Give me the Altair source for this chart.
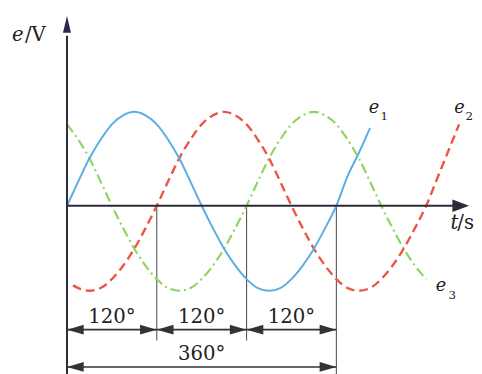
import altair as alt
import pandas as pd

# ---- curves (theta in degrees, e in units of amplitude) ----
theta_e1 = [0, 15, 30, 45, 60, 75, 90, 105, 120, 135, 150, 165, 180, 195, 210, 225, 240,
            255, 270, 285, 300, 315, 330, 345, 360, 375, 390, 405]
e1 = [0, 0.27, 0.53, 0.74, 0.91, 1.01, 1.05, 1.01, 0.91, 0.74, 0.53, 0.27, 0,
      -0.25, -0.48, -0.67, -0.82, -0.92, -0.95, -0.92, -0.82, -0.67, -0.48, -0.25, 0,
      0.33, 0.59, 0.87]

theta_e2 = [8, 15, 30, 45, 60, 75, 90, 105, 120, 135, 150, 165, 180, 195, 210, 225, 240,
            255, 270, 285, 300, 315, 330, 345, 360, 375, 390, 405, 420, 435, 450, 465,
            480, 495, 510, 524]
e2 = [-0.89, -0.92, -0.95, -0.92, -0.82, -0.67, -0.48, -0.25, 0, 0.27, 0.53, 0.74, 0.91,
      1.01, 1.05, 1.01, 0.91, 0.74, 0.53, 0.27, 0, -0.25, -0.48, -0.67, -0.82, -0.92,
      -0.95, -0.92, -0.82, -0.67, -0.48, -0.25, 0, 0.31, 0.62, 0.91]

theta_e3 = [0, 15, 30, 45, 60, 75, 90, 105, 120, 135, 150, 165, 180, 195, 210, 225, 240,
            255, 270, 285, 300, 315, 330, 345, 360, 375, 390, 405, 420, 435, 450, 465, 480]
e3 = [0.91, 0.74, 0.53, 0.27, 0, -0.25, -0.48, -0.67, -0.82, -0.92, -0.95, -0.92, -0.82,
      -0.67, -0.48, -0.25, 0, 0.27, 0.53, 0.74, 0.91, 1.01, 1.05, 1.01, 0.91, 0.74, 0.53,
      0.27, 0, -0.25, -0.48, -0.67, -0.82]

# ---- phase-difference annotations ----
seg_start = [0, 120, 240, 0]
seg_end = [120, 240, 360, 360]
seg_level = [-1.385, -1.385, -1.385, -1.802]
seg_label = ["120°", "120°", "120°", "360°"]
label_level = [-1.308, -1.308, -1.308, -1.725]

# ---- axis ends ----
x_axis_end = 528
x_arrow_tip = 537.4
y_axis_top = 1.9
y_axis_bottom = -1.95
y_arrow_tip = 2.12

FONT = "DejaVu Serif"
AXIS_COLOR = "#2b2b3a"

X_SCALE = alt.Scale(domain=[0, 360], range=[60, 334], nice=False, zero=False)
Y_SCALE = alt.Scale(domain=[0, 1], range=[198, 107], nice=False, zero=False)


def X(field):
    return alt.X(field, type="quantitative", scale=X_SCALE, axis=None)


def Y(field):
    return alt.Y(field, type="quantitative", scale=Y_SCALE, axis=None)


df1 = pd.DataFrame({"theta": theta_e1, "e": e1})
df2 = pd.DataFrame({"theta": theta_e2, "e": e2})
df3 = pd.DataFrame({"theta": theta_e3, "e": e3})

green = alt.Chart(df3).mark_line(
    color="#8fd460", strokeWidth=2.2, strokeDash=[10, 4, 2, 4], interpolate="monotone"
).encode(x=X("theta"), y=Y("e"))
red = alt.Chart(df2).mark_line(
    color="#ec5543", strokeWidth=2.4, strokeDash=[9, 5], interpolate="monotone"
).encode(x=X("theta"), y=Y("e"))
blue = alt.Chart(df1).mark_line(
    color="#5aaee4", strokeWidth=2, interpolate="monotone"
).encode(x=X("theta"), y=Y("e"))

# axes
xaxis = alt.Chart(pd.DataFrame({"a": [0], "b": [x_axis_end], "e": [0]})).mark_rule(
    color=AXIS_COLOR, strokeWidth=2
).encode(x=X("a"), x2="b", y=Y("e"))
yaxis = alt.Chart(pd.DataFrame({"t": [0], "a": [y_axis_bottom], "b": [y_axis_top]})).mark_rule(
    color=AXIS_COLOR, strokeWidth=2
).encode(x=X("t"), y=Y("a"), y2="b")

# vertical guide lines
vl = alt.Chart(pd.DataFrame({"t": [120, 240, 360], "a": [0, 0, 0],
                             "b": [-1.505, -1.505, y_axis_bottom]})).mark_rule(
    color="#555555", strokeWidth=1.1
).encode(x=X("t"), y=Y("a"), y2="b")

# dimension shafts
shafts = alt.Chart(pd.DataFrame({"a": seg_start, "b": seg_end, "e": seg_level})).mark_rule(
    color="#333333", strokeWidth=1.6
).encode(x=X("a"), x2="b", y=Y("e"))

heads_rows = []
for s, t, lv in zip(seg_start, seg_end, seg_level):
    heads_rows.append({"theta": s, "e": lv, "dir": "L"})
    heads_rows.append({"theta": t, "e": lv, "dir": "R"})
heads_rows.append({"theta": x_arrow_tip, "e": 0, "dir": "X"})
heads_rows.append({"theta": 0, "e": y_arrow_tip, "dir": "U"})

heads = alt.Chart(pd.DataFrame(heads_rows)).mark_point(
    filled=True, opacity=1, strokeWidth=0
).encode(
    x=X("theta"), y=Y("e"),
    shape=alt.Shape("dir:N", legend=None, scale=alt.Scale(
        domain=["L", "R", "X", "U"],
        range=["M0,0L1,-0.29L1,0.29Z", "M0,0L-1,-0.29L-1,0.29Z",
               "M0,0L-1,-0.38L-1,0.38Z", "M0,0L-0.24,1L0.24,1Z"])),
    size=alt.Size("dir:N", legend=None, scale=alt.Scale(
        domain=["L", "R", "X", "U"], range=[1156, 1156, 900, 1600])),
    color=alt.Color("dir:N", legend=None, scale=alt.Scale(
        domain=["L", "R", "X", "U"], range=["#333333", "#333333", AXIS_COLOR, "#2a2a48"])),
)

deg_labels = alt.Chart(pd.DataFrame({
    "theta": [(a + b) / 2 for a, b in zip(seg_start, seg_end)],
    "e": label_level, "text": seg_label})).mark_text(
    font=FONT, fontSize=20, align="center", baseline="alphabetic", color="#222222"
).encode(x=X("theta"), y=Y("e"), text="text:N")

ital = alt.Chart(pd.DataFrame({
    "theta": [-73.6, 512.4, 403.4, 517.6, 492.7],
    "e": [1.846, -0.264, 1.033, 1.033, -0.956],
    "text": ["e", "t", "e", "e", "e"],
    "fs": [20, 20, 18, 18, 18]})).mark_text(
    font=FONT, fontStyle="italic", align="left", baseline="alphabetic", color="#222222"
).encode(x=X("theta"), y=Y("e"), text="text:N", size=alt.Size("fs:Q", scale=None))

normal = alt.Chart(pd.DataFrame({
    "theta": [-56.2, 521.6, 419.0, 532.5, 510.0],
    "e": [1.846, -0.264, 0.956, 0.956, -1.044],
    "text": ["/V", "/s", "1", "2", "3"],
    "fs": [20, 20, 12, 12, 12]})).mark_text(
    font=FONT, align="left", baseline="alphabetic", color="#222222"
).encode(x=X("theta"), y=Y("e"), text="text:N", size=alt.Size("fs:Q", scale=None))

chart = alt.layer(
    vl, green, red, blue, xaxis, yaxis, shafts, heads, deg_labels, ital, normal
).properties(
    width=474, height=366, autosize=alt.AutoSizeParams(type="none"), padding=0
).configure(font=FONT).configure_text(font=FONT).configure_view(stroke=None)

chart.save("out.html", embed_options={"renderer": "svg", "actions": False})
